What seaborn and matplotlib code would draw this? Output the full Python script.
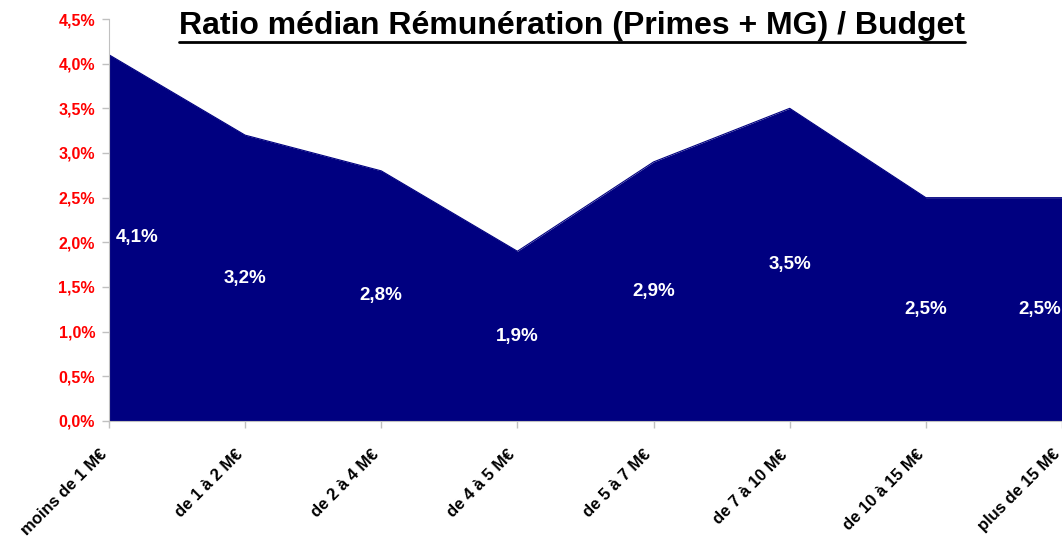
import matplotlib
matplotlib.use("Agg")
import matplotlib.pyplot as plt
import matplotlib.ticker as ticker
import pandas as pd
import seaborn as sns

categories = ["moins de 1 M€", "de 1 à 2 M€", "de 2 à 4 M€", "de 4 à 5 M€",
              "de 5 à 7 M€", "de 7 à 10 M€", "de 10 à 15 M€", "plus de 15 M€"]
ratios = [0.041, 0.032, 0.028, 0.019, 0.029, 0.035, 0.025, 0.025]
value_labels = ["4,1%", "3,2%", "2,8%", "1,9%", "2,9%", "3,5%", "2,5%", "2,5%"]

df = pd.DataFrame({"pos": range(len(categories)), "ratio": ratios})

sns.set_style("white")
plt.rcParams["font.family"] = ["Liberation Sans", "DejaVu Sans"]
plt.rcParams["text.color"] = "black"

fig = plt.figure(figsize=(10.62, 5.43), dpi=100, facecolor="w")
ax = fig.add_axes([0.1026, 0.2247, 0.8974, 0.7403])

navy = "#000080"
sns.lineplot(data=df, x="pos", y="ratio", color=navy, linewidth=0.8, ax=ax)
ax.fill_between(df["pos"], 0, df["ratio"], color=navy, linewidth=0)

# labels placed at half the height, like excel does
n = len(categories)
for i, (v, lab) in enumerate(zip(ratios, value_labels)):
    ha = "center"
    x = i
    if i == 0:
        ha = "left"
        x = i + 0.05
    elif i == n - 1:
        ha = "right"
        x = i - 0.01
    ax.text(x, v / 2, lab, color="white", fontsize=13.5, fontweight="bold",
            ha=ha, va="center")

ax.set_xlim(0, n - 1)
ax.set_ylim(0, 0.045)
ax.yaxis.set_major_locator(ticker.MultipleLocator(0.005))
ax.yaxis.set_major_formatter(ticker.FuncFormatter(
    lambda v, p: f"{v * 100:.1f}%".replace(".", ",")))
ax.set_xticks(range(n))
ax.set_xticklabels([])
# category labels drawn by hand so they sit a bit left of the tick
for i, cat in enumerate(categories):
    ax.annotate(cat, xy=(i, 0), xycoords=ax.get_xaxis_transform(),
                xytext=(-10, -26), textcoords="offset pixels",
                rotation=45, ha="right", va="top", rotation_mode="anchor",
                fontsize=12, fontweight="bold", color="black",
                annotation_clip=False)
for t in ax.get_yticklabels():
    t.set_color("red")
    t.set_fontweight("bold")
    t.set_fontsize(11.5)

ax.tick_params(axis="both", which="major", direction="out", length=5,
               color="#c0c0c0", width=1, bottom=True, left=True)
ax.tick_params(axis="y", pad=5)
sns.despine(ax=ax, top=True, right=True)
for s in ["left", "bottom"]:
    ax.spines[s].set_color("#c0c0c0")
ax.set_xlabel("")
ax.set_ylabel("")

title = fig.text(0.5386, 0.953, "Ratio médian Rémunération (Primes + MG) / Budget",
                 fontsize=23, fontweight="bold", ha="center", va="center",
                 color="black")
# underline
fig.canvas.draw()
bb = title.get_window_extent()
fig.add_artist(plt.Line2D([bb.x0 / 1062, bb.x1 / 1062],
                          [(bb.y0 - 1) / 543, (bb.y0 - 1) / 543],
                          color="black", linewidth=2, transform=fig.transFigure))

fig.savefig("out.png", dpi=100)
